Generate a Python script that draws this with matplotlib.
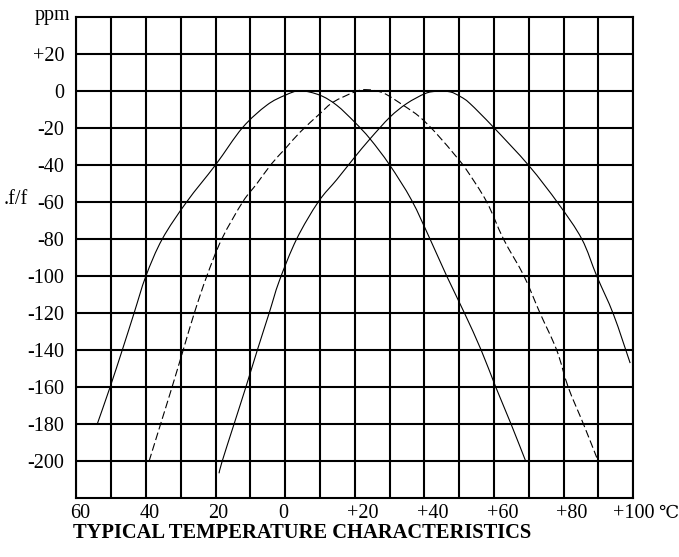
import matplotlib
matplotlib.use("Agg")
import matplotlib.pyplot as plt
from matplotlib.path import Path
from matplotlib.patches import PathPatch
import numpy as np

# ── axis ticks / labels ────────────────────────────────────────
temp_ticks = [-60, -40, -20, 0, 20, 40, 60, 80, 100]
temp_labels = ["60", "40", "20", "0", "+20", "+40", "+60", "+80", "+100"]
ppm_ticks = [20, 0, -20, -40, -60, -80, -100, -120, -140, -160, -180, -200]
ppm_labels = ["+20", "0", "-20", "-40", "-60", "-80", "-100",
              "-120", "-140", "-160", "-180", "-200"]

# ── curves (°C, ppm) ───────────────────────────────────────────
curve_a_t = [-54, -50.3, -46.8, -43.4, -40, -35.3, -28.3, -20, -12.3, -5.3,
             0, 4.3, 10, 14.8, 20, 24.4, 30, 36.3, 41.6, 46.4, 51.5,
             56.3, 60.5, 64.9, 69.1]
curve_a_ppm = [-180, -160, -140, -120, -100, -80, -60, -40, -20, -7.8,
               -2.4, 0, -2.4, -7.8, -17, -26, -40, -59, -80, -100,
               -120, -140, -160, -180, -200]

curve_b_t = [-39.1, -35.8, -32.5, -29.3, -26.1, -22.5, -18.2, -12.2, -8.2,
             -3.9, 0, 4.3, 10, 13.8, 20, 23.4, 28.2, 33.9, 38.7, 43.5, 49.3,
             52.2, 57.9, 62.7, 68.6, 73.2, 78, 81.3, 85.7, 89.5]
curve_b_ppm = [-200, -180, -160, -140, -120, -100, -80, -60, -50.3,
               -39.4, -31.3, -22.3, -12.3, -6.1, -0.6, 0.6, -1.2, -7.8, -14.2,
               -23.2, -35.9, -43, -60, -80, -100, -120, -140, -160, -180, -198]

curve_c_t = [-19, -18.1, -14.7, -11.3, -8, -4.6, -1.7, 3.3, 9.5, 14.8,
             19.6, 24.4, 30.1, 34.9, 40.2, 43.5, 47.4, 50.4, 53.1, 59.8, 70,
             78.5, 85.2, 89.5, 94.3, 99.1]
curve_c_ppm = [-206.5, -200, -180, -160, -140, -120, -102.7, -80, -60,
               -48, -36.7, -25.9, -14.2, -6.9, -1.5, -0.3, -0.6, -3.2,
               -6.9, -19.6, -40.4, -61, -80, -100, -120.7, -147]


def smooth_path(xs, ys):
    """Catmull-Rom through the read points, as cubic bezier segments."""
    p = np.column_stack([xs, ys]).astype(float)
    p = np.vstack([p[0], p, p[-1]])
    verts = [p[1]]
    codes = [Path.MOVETO]
    for i in range(1, len(p) - 2):
        c1 = p[i] + (p[i + 1] - p[i - 1]) / 6
        c2 = p[i + 1] - (p[i + 2] - p[i]) / 6
        verts += [c1, c2, p[i + 1]]
        codes += [Path.CURVE4] * 3
    return Path(verts, codes)


# ── styling ────────────────────────────────────────────────────
plt.rcParams["font.family"] = ["Liberation Serif", "DejaVu Serif"]
plt.rcParams["axes.unicode_minus"] = False

W, H = 679, 557
fig = plt.figure(figsize=(W / 100, H / 100), dpi=100)
ax = fig.add_axes([76.3 / W, 1 - 498.3 / H, 557 / W, 481.6 / H])

ax.set_xlim(-60, 100)
ax.set_ylim(-220, 40)

# grid every 10 °C and every 20 ppm
ax.set_xticks(np.arange(-60, 101, 10))
ax.set_xticklabels([])
ax.set_yticks(ppm_ticks, ppm_labels)
ax.tick_params(length=0, labelsize=14.5, pad=8.5)
ax.grid(True, color="black", linewidth=1.5)
for sp in ax.spines.values():
    sp.set_linewidth(1.5)

ax.add_patch(PathPatch(smooth_path(curve_a_t, curve_a_ppm), fill=False,
                       edgecolor="black", linewidth=0.8))
ax.add_patch(PathPatch(smooth_path(curve_b_t, curve_b_ppm), fill=False,
                       edgecolor="black", linewidth=0.8,
                       linestyle=(0, (7, 3))))
ax.add_patch(PathPatch(smooth_path(curve_c_t, curve_c_ppm), fill=False,
                       edgecolor="black", linewidth=0.8))

# x labels, drawn by hand so that each can sit where the original does
x_shift = [4, 4, 3, -2, 8, 8, 9, 8.5, 0]
for t, lab, dx in zip(temp_ticks, temp_labels, x_shift):
    ax.annotate(lab, xy=(t, 0), xycoords=ax.get_xaxis_transform(),
                xytext=(dx, -19.7), textcoords="offset pixels",
                ha="center", va="baseline", fontsize=14.5)

fig.text(658 / W, 1 - 518 / H, "℃", fontsize=13, ha="left", va="baseline")
fig.text(70 / W, 1 - 20 / H, "ppm", fontsize=14.5, ha="right", va="baseline")
fig.text(28 / W, 1 - 197 / H, ".f/f", fontsize=14.5, ha="right",
         va="center_baseline")
fig.text(73 / W, 1 - 538 / H, "TYPICAL TEMPERATURE CHARACTERISTICS",
         fontsize=14.8, fontweight="bold", ha="left", va="baseline")

fig.savefig("out.png", dpi=100)
